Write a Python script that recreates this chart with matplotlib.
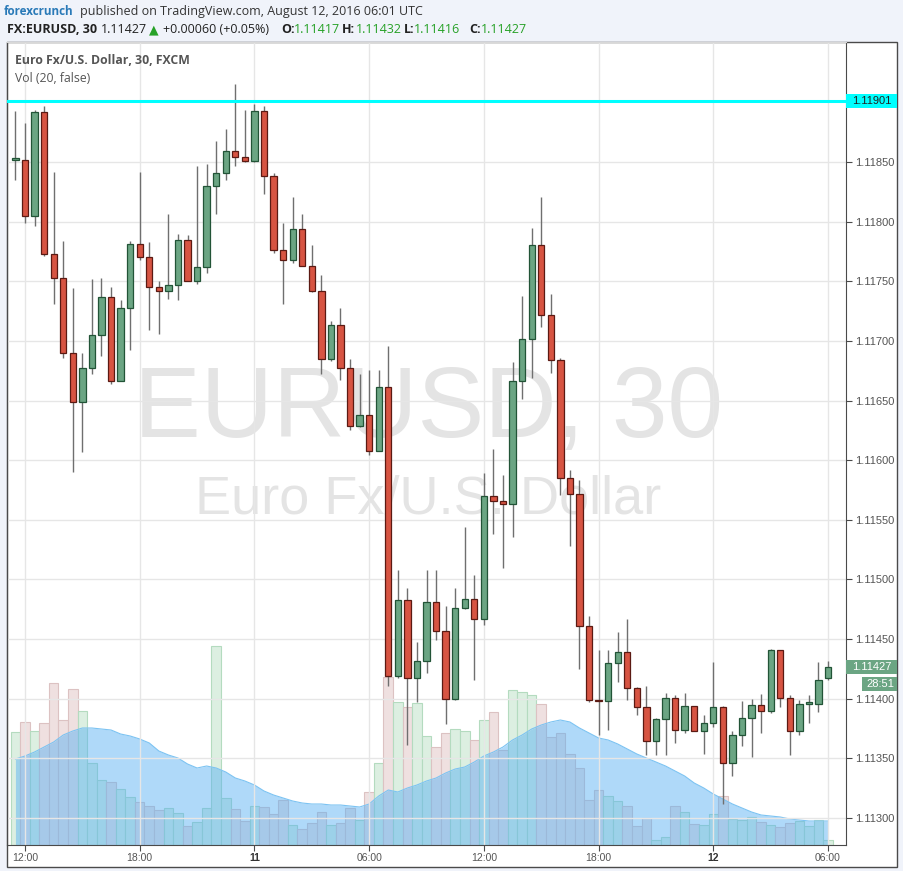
import matplotlib
matplotlib.use("Agg")
import matplotlib.pyplot as plt
import matplotlib.transforms as mtransforms
from matplotlib.patches import Rectangle
from matplotlib.ticker import FormatStrFormatter
import numpy as np

# EUR/USD 30 min bars, 10 Aug 11:30 -> 12 Aug 06:00
opens = [1.11852, 1.11852, 1.11805, 1.11892, 1.11773, 1.11753, 1.11690, 1.11649, 1.11677, 1.11705,
         1.11737, 1.11666, 1.11728, 1.11781, 1.11770, 1.11745, 1.11742, 1.11747, 1.11785, 1.11750,
         1.11762, 1.11830, 1.11841, 1.11859, 1.11854, 1.11851, 1.11893, 1.11838, 1.11776, 1.11768,
         1.11794, 1.11763, 1.11742, 1.11685, 1.11713, 1.11677, 1.11629, 1.11638, 1.11608, 1.11661,
         1.11419, 1.11483, 1.11417, 1.11432, 1.11481, 1.11457, 1.11400, 1.11476, 1.11484, 1.11467,
         1.11570, 1.11566, 1.11563, 1.11666, 1.11702, 1.11780, 1.11722, 1.11684, 1.11585, 1.11572,
         1.11461, 1.11399, 1.11398, 1.11430, 1.11439, 1.11409, 1.11393, 1.11365, 1.11383, 1.11401,
         1.11374, 1.11394, 1.11373, 1.11380, 1.11393, 1.11346, 1.11370, 1.11384, 1.11395, 1.11390,
         1.11441, 1.11401, 1.11373, 1.11396, 1.11396, 1.11417]
highs = [1.11893, 1.11883, 1.11894, 1.11897, 1.11842, 1.11784, 1.11744, 1.11690, 1.11752, 1.11753,
         1.11745, 1.11734, 1.11784, 1.11842, 1.11783, 1.11750, 1.11806, 1.11790, 1.11789, 1.11847,
         1.11848, 1.11868, 1.11878, 1.11915, 1.11894, 1.11899, 1.11897, 1.11841, 1.11799, 1.11821,
         1.11806, 1.11780, 1.11755, 1.11717, 1.11728, 1.11685, 1.11672, 1.11676, 1.11676, 1.11696,
         1.11508, 1.11493, 1.11448, 1.11508, 1.11508, 1.11478, 1.11493, 1.11544, 1.11504, 1.11589,
         1.11609, 1.11588, 1.11682, 1.11738, 1.11795, 1.11821, 1.11739, 1.11686, 1.11592, 1.11583,
         1.11469, 1.11441, 1.11441, 1.11456, 1.11467, 1.11410, 1.11411, 1.11384, 1.11405, 1.11403,
         1.11405, 1.11394, 1.11386, 1.11431, 1.11394, 1.11373, 1.11398, 1.11400, 1.11404, 1.11442,
         1.11441, 1.11403, 1.11399, 1.11403, 1.11431, 1.11432]
lows = [1.11835, 1.11799, 1.11796, 1.11771, 1.11731, 1.11686, 1.11590, 1.11607, 1.11672, 1.11687,
        1.11664, 1.11666, 1.11692, 1.11768, 1.11709, 1.11706, 1.11735, 1.11734, 1.11750, 1.11748,
        1.11757, 1.11806, 1.11835, 1.11847, 1.11850, 1.11850, 1.11823, 1.11774, 1.11731, 1.11765,
        1.11763, 1.11741, 1.11672, 1.11683, 1.11667, 1.11625, 1.11628, 1.11604, 1.11608, 1.11411,
        1.11417, 1.11361, 1.11397, 1.11422, 1.11449, 1.11379, 1.11399, 1.11475, 1.11416, 1.11462,
        1.11538, 1.11510, 1.11536, 1.11651, 1.11669, 1.11712, 1.11673, 1.11571, 1.11528, 1.11425,
        1.11397, 1.11370, 1.11374, 1.11414, 1.11399, 1.11386, 1.11353, 1.11353, 1.11353, 1.11363,
        1.11371, 1.11373, 1.11354, 1.11376, 1.11312, 1.11335, 1.11360, 1.11351, 1.11371, 1.11388,
        1.11393, 1.11353, 1.11370, 1.11380, 1.11389, 1.11416]
closes = [1.11853, 1.11805, 1.11892, 1.11773, 1.11753, 1.11690, 1.11649, 1.11677, 1.11705, 1.11737,
          1.11666, 1.11728, 1.11781, 1.11770, 1.11745, 1.11742, 1.11747, 1.11785, 1.11750, 1.11762,
          1.11830, 1.11841, 1.11859, 1.11854, 1.11851, 1.11893, 1.11838, 1.11776, 1.11768, 1.11794,
          1.11763, 1.11742, 1.11685, 1.11713, 1.11677, 1.11629, 1.11638, 1.11608, 1.11661, 1.11419,
          1.11483, 1.11417, 1.11432, 1.11481, 1.11457, 1.11400, 1.11476, 1.11484, 1.11467, 1.11570,
          1.11566, 1.11563, 1.11666, 1.11702, 1.11780, 1.11722, 1.11684, 1.11585, 1.11572, 1.11461,
          1.11399, 1.11398, 1.11430, 1.11439, 1.11409, 1.11393, 1.11365, 1.11383, 1.11401, 1.11374,
          1.11394, 1.11373, 1.11380, 1.11393, 1.11346, 1.11370, 1.11384, 1.11395, 1.11390, 1.11441,
          1.11401, 1.11373, 1.11396, 1.11397, 1.11416, 1.11427]
volumes = [1130, 1230, 1140, 1220, 1620, 1250, 1560, 1340, 820, 650,
           630, 560, 480, 430, 390, 350, 370, 320, 190, 230,
           370, 1990, 470, 360, 240, 390, 380, 310, 450, 200,
           160, 220, 330, 200, 220, 370, 250, 530, 820, 1680,
           1430, 1380, 1420, 1090, 980, 1120, 1160, 1140, 1050, 1250,
           1330, 950, 1550, 1530, 1500, 1410, 1080, 1120, 910, 770,
           450, 550, 490, 440, 390, 190, 270, 50, 80, 390,
           330, 210, 200, 310, 490, 260, 250, 280, 230, 200,
           180, 220, 240, 190, 250, 50]
vol_ma = [860, 890, 930, 980, 1030, 1100, 1140, 1170, 1170, 1160,
          1150, 1110, 1090, 1060, 1020, 940, 900, 870, 810, 770,
          790, 770, 730, 670, 640, 600, 540, 500, 470, 440,
          420, 410, 410, 400, 400, 390, 380, 410, 490, 550,
          530, 570, 600, 640, 670, 720, 760, 780, 830, 890,
          930, 980, 1050, 1100, 1160, 1200, 1230, 1250, 1230, 1170,
          1120, 1070, 1050, 1010, 960, 910, 870, 830, 790, 740,
          690, 620, 570, 510, 460, 410, 370, 330, 300, 290,
          280, 260, 250, 240, 240, 240]

tick_idx = [1, 13, 25, 37, 49, 61, 73, 85]
tick_labels = ["12:00", "18:00", "11", "06:00", "12:00", "18:00", "12", "06:00"]
day_labels = ["11", "12"]
price_ticks = [1.11300, 1.11350, 1.11400, 1.11450, 1.11500, 1.11550,
               1.11600, 1.11650, 1.11700, 1.11750, 1.11800, 1.11850]
alert_level = 1.11901
last_price = 1.11427
countdown = "28:51"

W, H = 904, 871
fig = plt.figure(figsize=(W / 100, H / 100), dpi=100, facecolor="#f0f3fa")


def fx(px):
    return px / W


def fy(py):
    return 1 - py / H


# white chart panel
frame = Rectangle((fx(7), fy(867)), fx(897) - fx(7), fy(42) - fy(867),
                  transform=fig.transFigure, facecolor="white",
                  edgecolor="#4a4a4a", lw=1, zorder=-5)
fig.patches.append(frame)

rect = [fx(7), fy(845), fx(846) - fx(7), fy(42) - fy(845)]
xlim = (-0.883, 86.88)
ylim = (1.112774, 1.119506)

x = np.arange(len(opens))
o = np.array(opens)
c = np.array(closes)
up = c >= o

# volume pane (behind the candles)
axv = fig.add_axes(rect)
axv.bar(x, volumes, width=1.0,
        color=np.where(up, "#dcefe1", "#efe0e0"),
        edgecolor=np.where(up, "#b4dbbf", "#dcc2c2"), linewidth=0.8)
axv.fill_between(x, 0, vol_ma, color="#55b0f4", alpha=0.47, lw=0)
axv.plot(x, vol_ma, color="#7cc3f2", lw=0.8)
axv.set_xlim(*xlim)
axv.set_ylim(0, 8030)
axv.axis("off")

ax = fig.add_axes(rect)
ax.set_facecolor("none")
ax.set_xlim(*xlim)
ax.set_ylim(*ylim)

# watermark
ax.text(0.502, 0.541, "EURUSD, 30", transform=ax.transAxes, ha="center", va="center",
        fontsize=72, color="#e4e4e4", family="Liberation Sans", zorder=0.5)
ax.text(0.502, 0.430, "Euro Fx/U.S. Dollar", transform=ax.transAxes, ha="center", va="center",
        fontsize=39, color="#e4e4e4", family="Liberation Sans", zorder=0.5)

# candles
ax.vlines(x, lows, highs, color="#6f6f6f", lw=1, zorder=2)
body_lo = np.minimum(o, c)
body_h = np.maximum(np.abs(c - o), 0.000006)
ax.bar(x, body_h, bottom=body_lo, width=0.66,
       color=np.where(up, "#6ba583", "#d75442"),
       edgecolor=np.where(up, "#225437", "#5b1a13"), lw=0.9, zorder=3)

ax.axhline(alert_level, color="#00ffff", lw=2.2, zorder=4)

# axes, grid, ticks
ax.set_yticks(price_ticks)
ax.yaxis.set_major_formatter(FormatStrFormatter("%.5f"))
ax.yaxis.tick_right()
ax.set_xticks(tick_idx)
ax.set_xticklabels(tick_labels)
ax.grid(True, color="#e6e6e6", lw=1)
ax.tick_params(axis="y", length=4, color="#4a4a4a", pad=2.5, labelsize=8, labelcolor="#555555")
ax.tick_params(axis="x", length=4, color="#4a4a4a", pad=2, labelsize=7.5, labelcolor="#555555")
for lab in ax.get_yticklabels() + ax.get_xticklabels():
    lab.set_family("Liberation Sans")
for lab in ax.get_xticklabels():
    if lab.get_text() in day_labels:
        lab.set_fontweight("bold")
        lab.set_color("#333333")
for s in ["left", "right", "bottom"]:
    ax.spines[s].set_color("#4a4a4a")
ax.spines["top"].set_color("#d8d8d8")

# price label boxes on the right axis
blend = mtransforms.blended_transform_factory(ax.transAxes, ax.transData)
box_w = (897 - 846) / (846 - 7)
box_h = 14 * (ylim[1] - ylim[0]) / 803
for lvl, face, tcol in [(alert_level, "#00ffff", "#222222"), (last_price, "#6ba583", "white")]:
    ax.add_patch(Rectangle((1.0, lvl - box_h / 2), box_w, box_h, transform=blend,
                           facecolor=face, edgecolor="none", clip_on=False, zorder=5))
    ax.text(1.0 + 6 / 839, lvl, "%.5f" % lvl, transform=blend, ha="left", va="center",
            fontsize=8, color=tcol, family="Liberation Sans", clip_on=False, zorder=6)
fig.patches.append(Rectangle((fx(862), fy(691)), fx(897) - fx(862), fy(677) - fy(691),
                             transform=fig.transFigure, facecolor="#6ba583", edgecolor="none"))
fig.text(fx(866), fy(684), countdown, ha="left", va="center", fontsize=8,
         color="white", family="Liberation Sans")

# legend lines in the chart
fig.text(fx(15.5), fy(61), "Euro Fx/U.S. Dollar, 30, FXCM",
         ha="left", va="center", fontsize=8.8, fontweight="bold", color="#555555", family="Open Sans")
fig.text(fx(15.5), fy(78), "Vol (20, false)",
         ha="left", va="center", fontsize=8.8, color="#555555", family="Open Sans")

# header
hf = ["Open Sans", "DejaVu Sans"]
fig.text(fx(4), fy(11.5), "forexcrunch", ha="left", va="center", fontsize=8.4,
         color="#2a7ab8", fontweight="bold", family=hf)
fig.text(fx(80), fy(11.5), "published on TradingView.com, August 12, 2016 06:01 UTC",
         ha="left", va="center", fontsize=9, color="#333333", family=hf)
green = "#27a127"
parts = [(7, "FX:EURUSD, 30", "bold", "#222222"),
         (100.5, "1.11427", "normal", "#222222"),
         (149, "\u25b2", "normal", green),
         (163, "+0.00060 (+0.05%)", "normal", "#222222"),
         (281, "O:", "bold", "#222222"), (294, "1.11417", "normal", green),
         (342, "H:", "bold", "#222222"), (356, "1.11432", "normal", green),
         (404, "L:", "bold", "#222222"), (414, "1.11416", "normal", green),
         (469, "C:", "bold", "#222222"), (481, "1.11427", "normal", green)]
for px_, txt, wt, col in parts:
    fig.text(fx(px_), fy(29.5), txt, ha="left", va="center", fontsize=9,
             fontweight=wt, color=col, family=hf)

fig.savefig("out.png", dpi=100, facecolor=fig.get_facecolor())
